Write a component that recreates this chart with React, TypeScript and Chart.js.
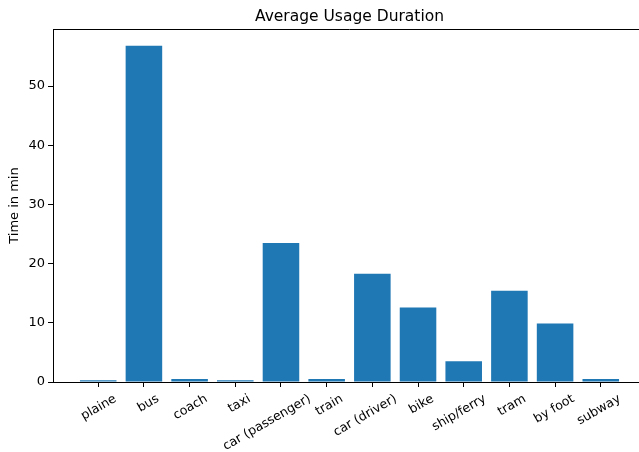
import React, { useEffect, useRef } from "react";
import { Chart, registerables } from "chart.js";

Chart.register(...registerables);

const categories = [
  "plaine", "bus", "coach", "taxi", "car (passenger)", "train",
  "car (driver)", "bike", "ship/ferry", "tram", "by foot", "subway",
];
const durations = [0.3, 56.8, 0.5, 0.3, 23.5, 0.5, 18.3, 12.6, 3.5, 15.4, 9.9, 0.5];
const yTicks = [0, 10, 20, 30, 40, 50];
const chartTitle = "Average Usage Duration";
const yLabel = "Time in min";

const FONT = "'DejaVu Sans', sans-serif";

const customText = {
  id: "customText",
  afterDraw(chart: any) {
    const { ctx, chartArea } = chart;
    const xs = chart.scales.x;
    ctx.save();
    // top spine
    ctx.strokeStyle = "#000";
    ctx.lineWidth = 1;
    ctx.beginPath();
    ctx.moveTo(chartArea.left, chartArea.top + 0.5);
    ctx.lineTo(chartArea.right, chartArea.top + 0.5);
    ctx.stroke();
    // title
    ctx.fillStyle = "#000";
    ctx.font = `15.5px ${FONT}`;
    ctx.textAlign = "center";
    ctx.textBaseline = "alphabetic";
    ctx.fillText(chartTitle, (chartArea.left + chartArea.right) / 2, chartArea.top - 8);
    // y label
    ctx.save();
    ctx.translate(15, (chartArea.top + chartArea.bottom) / 2);
    ctx.rotate(-Math.PI / 2);
    ctx.font = `13px ${FONT}`;
    ctx.textBaseline = "middle";
    ctx.fillText(yLabel, 0, 0);
    ctx.restore();
    // x labels rotated 30deg
    const fs = 12.6;
    ctx.font = `${fs}px ${FONT}`;
    categories.forEach((lab, i) => {
      const px = xs.getPixelForValue(i);
      const w = ctx.measureText(lab).width;
      const H = 0.5 * w + 0.866 * 0.76 * fs;
      const cx = px + 9 - 0.24 * w;
      const cy = chartArea.bottom + 10.5 + H / 2;
      ctx.save();
      ctx.translate(cx, cy);
      ctx.rotate(-Math.PI / 6);
      ctx.textAlign = "center";
      ctx.textBaseline = "alphabetic";
      ctx.fillText(lab, 0, 0.38 * fs);
      ctx.restore();
    });
    ctx.restore();
  },
};

export default function App() {
  const ref = useRef<HTMLCanvasElement>(null);
  useEffect(() => {
    if (!ref.current) return;
    Chart.defaults.font.family = FONT;
    const chart = new Chart(ref.current, {
      type: "bar",
      data: {
        datasets: [
          {
            data: durations.map((v, i) => ({ x: i, y: v })),
            backgroundColor: "#1f77b4",
            borderWidth: 0,
            barPercentage: 0.8,
            categoryPercentage: 1,
          },
        ],
      },
      options: {
        animation: false,
        responsive: false,
        layout: { padding: { top: 29, right: 14, left: 0, bottom: 0 } },
        plugins: { legend: { display: false }, tooltip: { enabled: false }, title: { display: false } },
        scales: {
          x: {
            type: "linear",
            min: -0.99,
            max: 11.99,
            offset: false,
            afterBuildTicks: (s: any) => {
              s.ticks = categories.map((_, i) => ({ value: i }));
            },
            afterFit: (s: any) => {
              s.height = 70;
            },
            grid: { offset: false, drawOnChartArea: false, drawTicks: true, tickLength: 5, color: "#000", lineWidth: 1 },
            border: { display: true, color: "#000", width: 1 },
            ticks: { display: false },
          },
          y: {
            min: 0,
            max: 59.64,
            afterBuildTicks: (s: any) => {
              s.ticks = yTicks.map((v) => ({ value: v }));
            },
            afterFit: (s: any) => {
              s.width = 53;
            },
            grid: { drawOnChartArea: false, drawTicks: true, tickLength: 5, color: "#000", lineWidth: 1 },
            border: { display: true, color: "#000", width: 1 },
            ticks: { color: "#000", font: { size: 13, family: FONT }, padding: 3 },
          },
        },
      },
      plugins: [customText],
    } as any);
    return () => chart.destroy();
  }, []);
  return (
    <div style={{ position: "fixed", left: 0, top: 0, width: 639, height: 452, overflow: "hidden", background: "#fff" }}>
      <canvas ref={ref} width={660} height={452} style={{ display: "block" }} />
    </div>
  );
}
